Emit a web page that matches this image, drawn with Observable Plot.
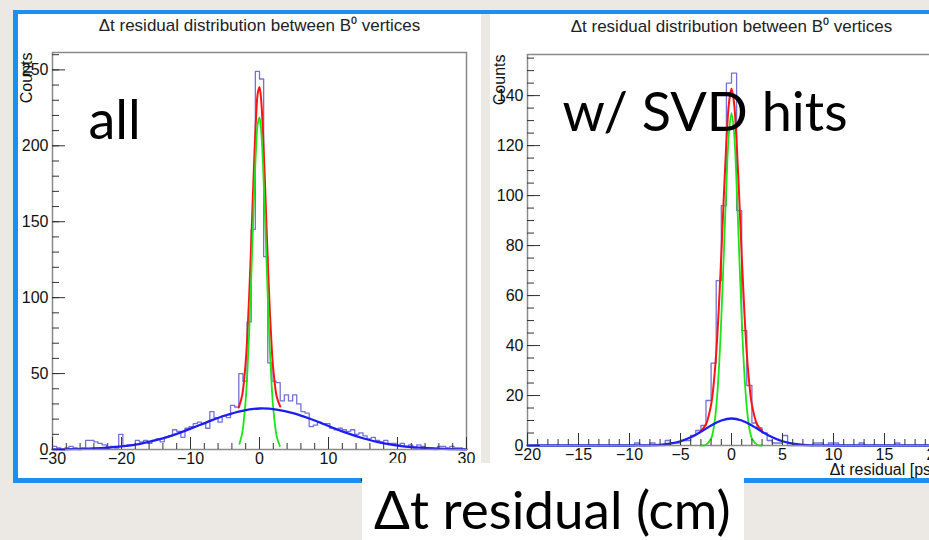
<!DOCTYPE html>
<html>
<head>
<meta charset="utf-8">
<script src="https://cdn.jsdelivr.net/npm/d3@7"></script>
<script src="https://cdn.jsdelivr.net/npm/@observablehq/plot@0.6"></script>
<style>
  html, body { margin: 0; padding: 0; overflow: hidden; background: #ece9e4; }
  #stage { position: relative; width: 929px; height: 540px; overflow: hidden; background: #ece9e4; }
  #box { position: absolute; left: 13px; top: 10px; width: 940px; height: 473px; box-sizing: border-box;
         background: #fff; border-left: 5px solid #1c8ff2; border-top: 4px solid #1c8ff2; border-bottom: 5px solid #1c8ff2; }
  #strip { position: absolute; left: 481px; top: 14px; width: 9px; height: 449px; background: #ece9e4; }
  #left { position: absolute; left: 18px; top: 14px; width: 463px; }
  #right { position: absolute; left: 490px; top: 14px; width: 455px; }
  #left svg, #right svg { max-width: none !important; }
  #caption { position: absolute; left: 362px; top: 463px; width: 382px; height: 77px; background: #fff; }
  #caption svg { display: block; overflow: visible; }
</style>
</head>
<body>
<div id="stage">
  <div id="box"></div>
  <div id="left"></div>
  <div id="right"></div>
  <div id="strip"></div>
  <div id="caption">
    <svg width="382" height="77"><text x="12" y="66" font-family="Lato, 'Open Sans', sans-serif" font-size="53" fill="#000">Δt residual (cm)</text></svg>
  </div>
</div>
<script>
// ---------- text ----------
const plotTitle = "Δt residual distribution between B⁰ vertices";
const yTitle = "Counts";
const xTitle = "Δt residual [ps]";
const leftNote = "all";
const rightNote = "w/ SVD hits";

// ---------- left panel ("all"): 100 bins over [-30, 30] ----------
const leftRange = [-30, 30];
const leftCounts = [
  2, 1, 0, 1, 2, 1, 0, 1, 6, 6,
  5, 4, 3, 1, 2, 1, 10, 2, 3, 3,
  6, 5, 6, 4, 6, 7, 5, 8, 9, 13,
  12, 8, 14, 15, 17, 18, 17, 14, 25, 21,
  18, 22, 21, 29, 28, 50, 45, 84, 145, 249,
  244, 127, 57, 45, 44, 32, 36, 32, 36, 30,
  25, 24, 15, 16, 18, 17, 17, 14, 13, 14,
  13, 12, 13, 10, 11, 9, 7, 8, 6, 5,
  6, 4, 4, 3, 4, 2, 3, 1, 3, 2,
  1, 1, 0, 2, 2, 1, 2, 1, 1, 0
];
const leftYMax = 261.45;
const leftRedX = [-3, -2.5, -2, -1.75, -1.5, -1.25, -1, -0.75, -0.5, -0.25, 0, 0.25, 0.5, 0.75, 1, 1.25, 1.5, 1.75, 2, 2.5, 3];
const leftRedY = [27.7, 36, 57.7, 76, 100.6, 129.7, 161.6, 192.7, 218.4, 234.7, 238.7, 229.7, 209, 181, 149, 118, 90.7, 68.8, 52.7, 34.7, 28.3];
const leftGreenX = [-2.9, -2.5, -2, -1.75, -1.5, -1.25, -1, -0.75, -0.5, -0.25, 0, 0.25, 0.5, 0.75, 1, 1.25, 1.5, 1.75, 2, 2.5, 2.95];
const leftGreenY = [3.8, 10.9, 32.8, 51.6, 76.6, 106.6, 139.5, 171.5, 198, 214.7, 218.7, 209.4, 188.3, 159, 126.3, 94.1, 65.9, 43.4, 26.8, 8.5, 2.4];
const leftBlueX = [-30, -27.5, -25, -22.5, -20, -17.5, -15, -12.5, -10, -7.5, -5, -2.5, 0, 2.5, 5, 7.5, 10, 12.5, 15, 17.5, 20, 22.5, 25, 27.5, 30];
const leftBlueY = [0.1, 0.2, 0.5, 1.0, 2.0, 3.6, 6.1, 9.5, 13.7, 18.2, 22.4, 25.5, 27.0, 26.3, 23.8, 19.9, 15.5, 11.1, 7.4, 4.5, 2.6, 1.4, 0.7, 0.3, 0.1];
const leftXMajor = [-30, -20, -10, 0, 10, 20, 30];
const leftXMinor = d3.range(-30, 30.01, 2);
const leftYMajor = [0, 50, 100, 150, 200, 250];
const leftYMinor = d3.range(0, 261, 10);

// ---------- right panel ("w/ SVD hits"): 80 bins over [-20, 20] ----------
const rightRange = [-20, 20];
const rightCounts = [
  0, 0, 0, 0, 0, 0, 0, 0, 0, 0,
  0, 0, 0, 0, 0, 0, 0, 0, 0, 0,
  0, 1, 0, 0, 1, 0, 0, 2, 1, 1,
  2, 2, 4, 6, 8, 18, 33, 66, 96, 145,
  149, 94, 46, 24, 9, 7, 5, 2, 1, 1,
  4, 0, 0, 0, 0, 0, 1, 1, 0, 1,
  1, 0, 0, 0, 0, 1, 0, 0, 0, 0,
  0, 0, 1, 0, 0, 0, 0, 0, 0, 0
];
const rightYMax = 156.45;
const rightRedX = [-3, -2.5, -2, -1.75, -1.5, -1.25, -1, -0.75, -0.5, -0.25, 0, 0.25, 0.5, 0.75, 1, 1.25, 1.5, 1.75, 2, 2.5, 3];
const rightRedY = [5.8, 8.5, 16.3, 24.5, 36.9, 54.4, 76.1, 99.9, 121.6, 137, 142.8, 137, 121.6, 99.9, 76.1, 54.4, 36.9, 24.5, 16.3, 8.5, 5.8];
const rightGreenX = [-3, -2.5, -2, -1.75, -1.5, -1.25, -1, -0.75, -0.5, -0.25, 0, 0.25, 0.5, 0.75, 1, 1.25, 1.5, 1.75, 2, 2.5, 3];
const rightGreenY = [0, 0.3, 2.8, 6.9, 15.2, 29.5, 50.7, 77.3, 104.5, 125.2, 133, 125.2, 104.5, 77.3, 50.7, 29.5, 15.2, 6.9, 2.8, 0.3, 0];
const rightBlueX = [-20, -15, -12, -10, -9, -8, -7, -6, -5, -4, -3, -2, -1, 0, 1, 2, 3, 4, 5, 6, 7, 8, 9, 10, 12, 15, 20];
const rightBlueY = [0, 0, 0, 0, 0.03, 0.09, 0.29, 0.75, 1.7, 3.3, 5.5, 8.0, 10.0, 10.8, 10.0, 8.0, 5.5, 3.3, 1.7, 0.75, 0.29, 0.09, 0.03, 0, 0, 0, 0];
const rightXMajor = [-20, -15, -10, -5, 0, 5, 10, 15, 20];
const rightXMinor = d3.range(-20, 20.01, 1);
const rightYMajor = [0, 20, 40, 60, 80, 100, 120, 140];
const rightYMinor = d3.range(0, 156, 5);

// ---------- helpers ----------
function stepTable(counts, [lo, hi]) {
  const w = (hi - lo) / counts.length;
  const rows = counts.map((c, i) => ({x: lo + i * w, y: c}));
  rows.push({x: hi, y: counts[counts.length - 1]});
  return rows;
}
function pairs(xs, ys) { return xs.map((x, i) => ({x, y: ys[i]})); }

const TICK = "#333";
const FONT = "'Liberation Sans', Arial, Helvetica, sans-serif";

function panel(o) {
  return Plot.plot({
    width: o.width, height: o.height,
    marginLeft: o.ml, marginRight: o.mr, marginTop: o.mt, marginBottom: o.mb,
    style: {background: "#fff", fontFamily: FONT, fontSize: "15.5px", color: "#111", overflow: "visible", maxWidth: "none"},
    x: {domain: o.range},
    y: {domain: [0, o.yMax]},
    marks: [
      Plot.line(stepTable(o.counts, o.range), {x: "x", y: "y", curve: "step-after", stroke: "#7272d8", strokeWidth: 1.3}),
      Plot.line(pairs(o.redX, o.redY), {x: "x", y: "y", curve: "catmull-rom", stroke: "#ff1414", strokeWidth: 2}),
      Plot.line(pairs(o.greenX, o.greenY), {x: "x", y: "y", curve: "catmull-rom", stroke: "#18e618", strokeWidth: 1.8}),
      Plot.line(pairs(o.blueX, o.blueY), {x: "x", y: "y", curve: "catmull-rom", stroke: "#1c1cf4", strokeWidth: 2.3}),
      Plot.frame({stroke: "#8a8a8a", strokeWidth: 1.5}),
      // inward ticks
      Plot.axisX(o.xMinor, {tickSize: 6, dy: -6, fill: "none", stroke: TICK, label: null}),
      Plot.axisX(o.xMajor, {tickSize: 12, dy: -12, fill: "none", stroke: TICK, label: null}),
      Plot.axisY(o.yMinor, {tickSize: 7, dx: 7, fill: "none", stroke: TICK, label: null}),
      Plot.axisY(o.yMajor, {tickSize: 13, dx: 13, fill: "none", stroke: TICK, label: null}),
      // tick labels
      Plot.axisX(o.xMajor, {tickSize: 0, tickPadding: 3, fontSize: 16, fill: "#111", label: null}),
      Plot.axisY(o.yMajor, {tickSize: 0, tickPadding: 4, fontSize: 16, fill: "#111", label: null}),
      // titles
      Plot.text([plotTitle], {text: d => d, frameAnchor: "top", lineAnchor: "bottom", dy: o.titleDy, fontSize: 17, fill: "#222"}),
      Plot.text([yTitle], {text: d => d, frameAnchor: "top-left", rotate: -90, textAnchor: "end", lineAnchor: "middle", dx: o.yTitleDx, fontSize: 16, fill: "#111"}),
      Plot.text([xTitle], {text: d => d, frameAnchor: "bottom-right", textAnchor: "end", lineAnchor: "bottom", dy: o.xTitleDy, fontSize: 16, fill: "#111"}),
      // panel note
      Plot.text([o.note], {text: d => d, frameAnchor: "top-left", textAnchor: "start", lineAnchor: "bottom", dx: o.noteDx, dy: o.noteDy, fontFamily: "Lato, 'Open Sans', sans-serif", fontSize: 54, fill: "#000"})
    ]
  });
}

document.getElementById("left").append(panel({
  width: 463, height: 464, ml: 34, mr: 15, mt: 38, mb: 29,
  range: leftRange, yMax: leftYMax, counts: leftCounts,
  redX: leftRedX, redY: leftRedY, greenX: leftGreenX, greenY: leftGreenY, blueX: leftBlueX, blueY: leftBlueY,
  xMajor: leftXMajor, xMinor: leftXMinor, yMajor: leftYMajor, yMinor: leftYMinor,
  titleDy: -22, yTitleDx: -26, xTitleDy: 31, note: leftNote, noteDx: 36, noteDy: 86
}));

document.getElementById("right").append(panel({
  width: 455, height: 464, ml: 37, mr: 10, mt: 40, mb: 33,
  range: rightRange, yMax: rightYMax, counts: rightCounts,
  redX: rightRedX, redY: rightRedY, greenX: rightGreenX, greenY: rightGreenY, blueX: rightBlueX, blueY: rightBlueY,
  xMajor: rightXMajor, xMinor: rightXMinor, yMajor: rightYMajor, yMinor: rightYMinor,
  titleDy: -23, yTitleDx: -28, xTitleDy: 29, note: rightNote, noteDx: 35, noteDy: 76
}));
</script>
</body>
</html>
